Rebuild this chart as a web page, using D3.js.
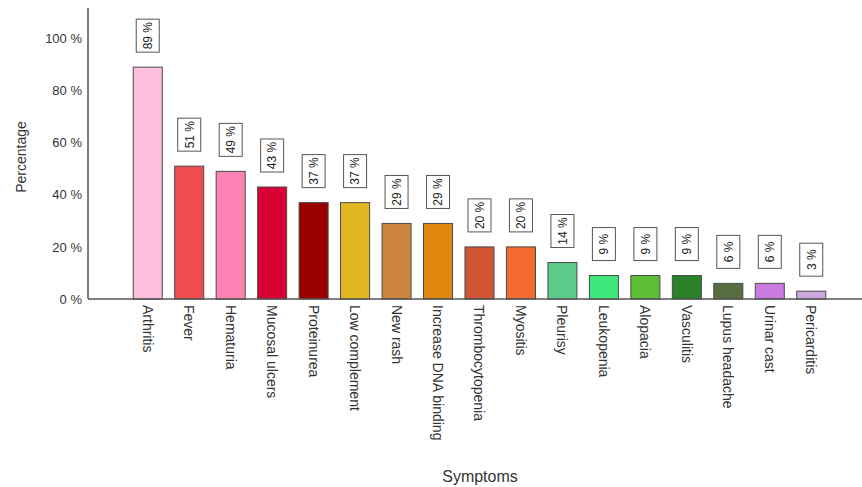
<!DOCTYPE html>
<html>
<head>
<meta charset="utf-8">
<script src="https://cdn.jsdelivr.net/npm/d3@7"></script>
<style>
  body { margin: 0; background: #fff; }
  svg { display: block; font-family: "Liberation Sans", Arial, sans-serif; }
</style>
</head>
<body>
<svg id="chart" width="862" height="487"></svg>
<script>
// Symptom frequencies (% of patients)
const categories = ["Arthritis", "Fever", "Hematuria", "Mucosal ulcers", "Proteinurea",
  "Low complement", "New rash", "Increase DNA binding", "Thrombocytopenia", "Myositis",
  "Pleurisy", "Leukopenia", "Alopacia", "Vasculitis", "Lupus headache", "Urinar cast", "Pericarditis"];
const values = [89, 51, 49, 43, 37, 37, 29, 29, 20, 20, 14, 9, 9, 9, 6, 6, 3];
const colors = ["#fdbfdd", "#ee4c4f", "#fd82b4", "#d60032", "#9b0000", "#e1b822", "#cc8540",
  "#e0880f", "#d05434", "#f26a2e", "#5dc98a", "#3fe87c", "#5cbf33", "#2a8228", "#566e40",
  "#c97be0", "#cba7e0"];
const yTicks = [0, 20, 40, 60, 80, 100];

const svg = d3.select("#chart");
const axisLeftX = 88, axisRightX = 862, baseY = 299;

const y = d3.scaleLinear().domain([0, 100]).range([baseY, 38.5]);
const x = d3.scaleBand().domain(categories)
  .range([127, 127 + 17 * 41.47]).paddingInner(0.3).paddingOuter(0.15);

// Y tick labels
const yAxis = d3.axisLeft(y).tickValues(yTicks).tickSize(0).tickPadding(6)
  .tickFormat(d => d + " %");
const gy = svg.append("g").attr("transform", `translate(${axisLeftX},0)`).call(yAxis);
gy.select(".domain").remove();
gy.selectAll("text").attr("font-size", 13).attr("fill", "#333")
  .attr("font-family", "Liberation Sans, Arial, sans-serif");

// Bars
svg.append("g").selectAll("rect").data(categories).join("rect")
  .attr("x", d => x(d))
  .attr("y", (d, i) => y(values[i]))
  .attr("width", x.bandwidth())
  .attr("height", (d, i) => baseY - y(values[i]))
  .attr("fill", (d, i) => colors[i])
  .attr("stroke", "#4a4a4a")
  .attr("stroke-width", 1);

// Value labels in boxes, rotated
const labels = svg.append("g").selectAll("g").data(categories).join("g")
  .attr("transform", (d, i) =>
    `translate(${x(d) + x.bandwidth() / 2},${y(values[i]) - 15 - 16.5})`);
labels.append("rect")
  .attr("x", -11.5).attr("y", -16.5).attr("width", 23).attr("height", 33)
  .attr("fill", "#fff").attr("stroke", "#555").attr("stroke-width", 1);
labels.append("text")
  .attr("transform", "rotate(-90)")
  .attr("text-anchor", "middle").attr("dy", "0.36em")
  .attr("font-size", 12).attr("fill", "#222")
  .text((d, i) => values[i] + " %");

// X category labels, rotated to read downward
const gx = svg.append("g").attr("transform", `translate(0,${baseY})`)
  .call(d3.axisBottom(x).tickSize(0).tickPadding(0));
gx.select(".domain").remove();
gx.selectAll("text")
  .attr("font-size", 14).attr("fill", "#333")
  .attr("font-family", "Liberation Sans, Arial, sans-serif")
  .attr("text-anchor", "start")
  .attr("transform", "translate(0,6) rotate(90)")
  .attr("x", 0).attr("y", 0).attr("dy", "0.36em");

// Axis lines
svg.append("line").attr("x1", axisLeftX).attr("x2", axisLeftX).attr("y1", 8).attr("y2", baseY)
  .attr("stroke", "#555").attr("stroke-width", 1.5);
svg.append("line").attr("x1", axisLeftX).attr("x2", axisRightX).attr("y1", baseY).attr("y2", baseY)
  .attr("stroke", "#555").attr("stroke-width", 1.5);

// Axis titles
svg.append("text").attr("transform", "translate(26,157) rotate(-90)")
  .attr("text-anchor", "middle").attr("font-size", 14).attr("fill", "#333")
  .text("Percentage");
svg.append("text").attr("x", 480).attr("y", 482)
  .attr("text-anchor", "middle").attr("font-size", 16).attr("fill", "#333")
  .text("Symptoms");
</script>
</body>
</html>
